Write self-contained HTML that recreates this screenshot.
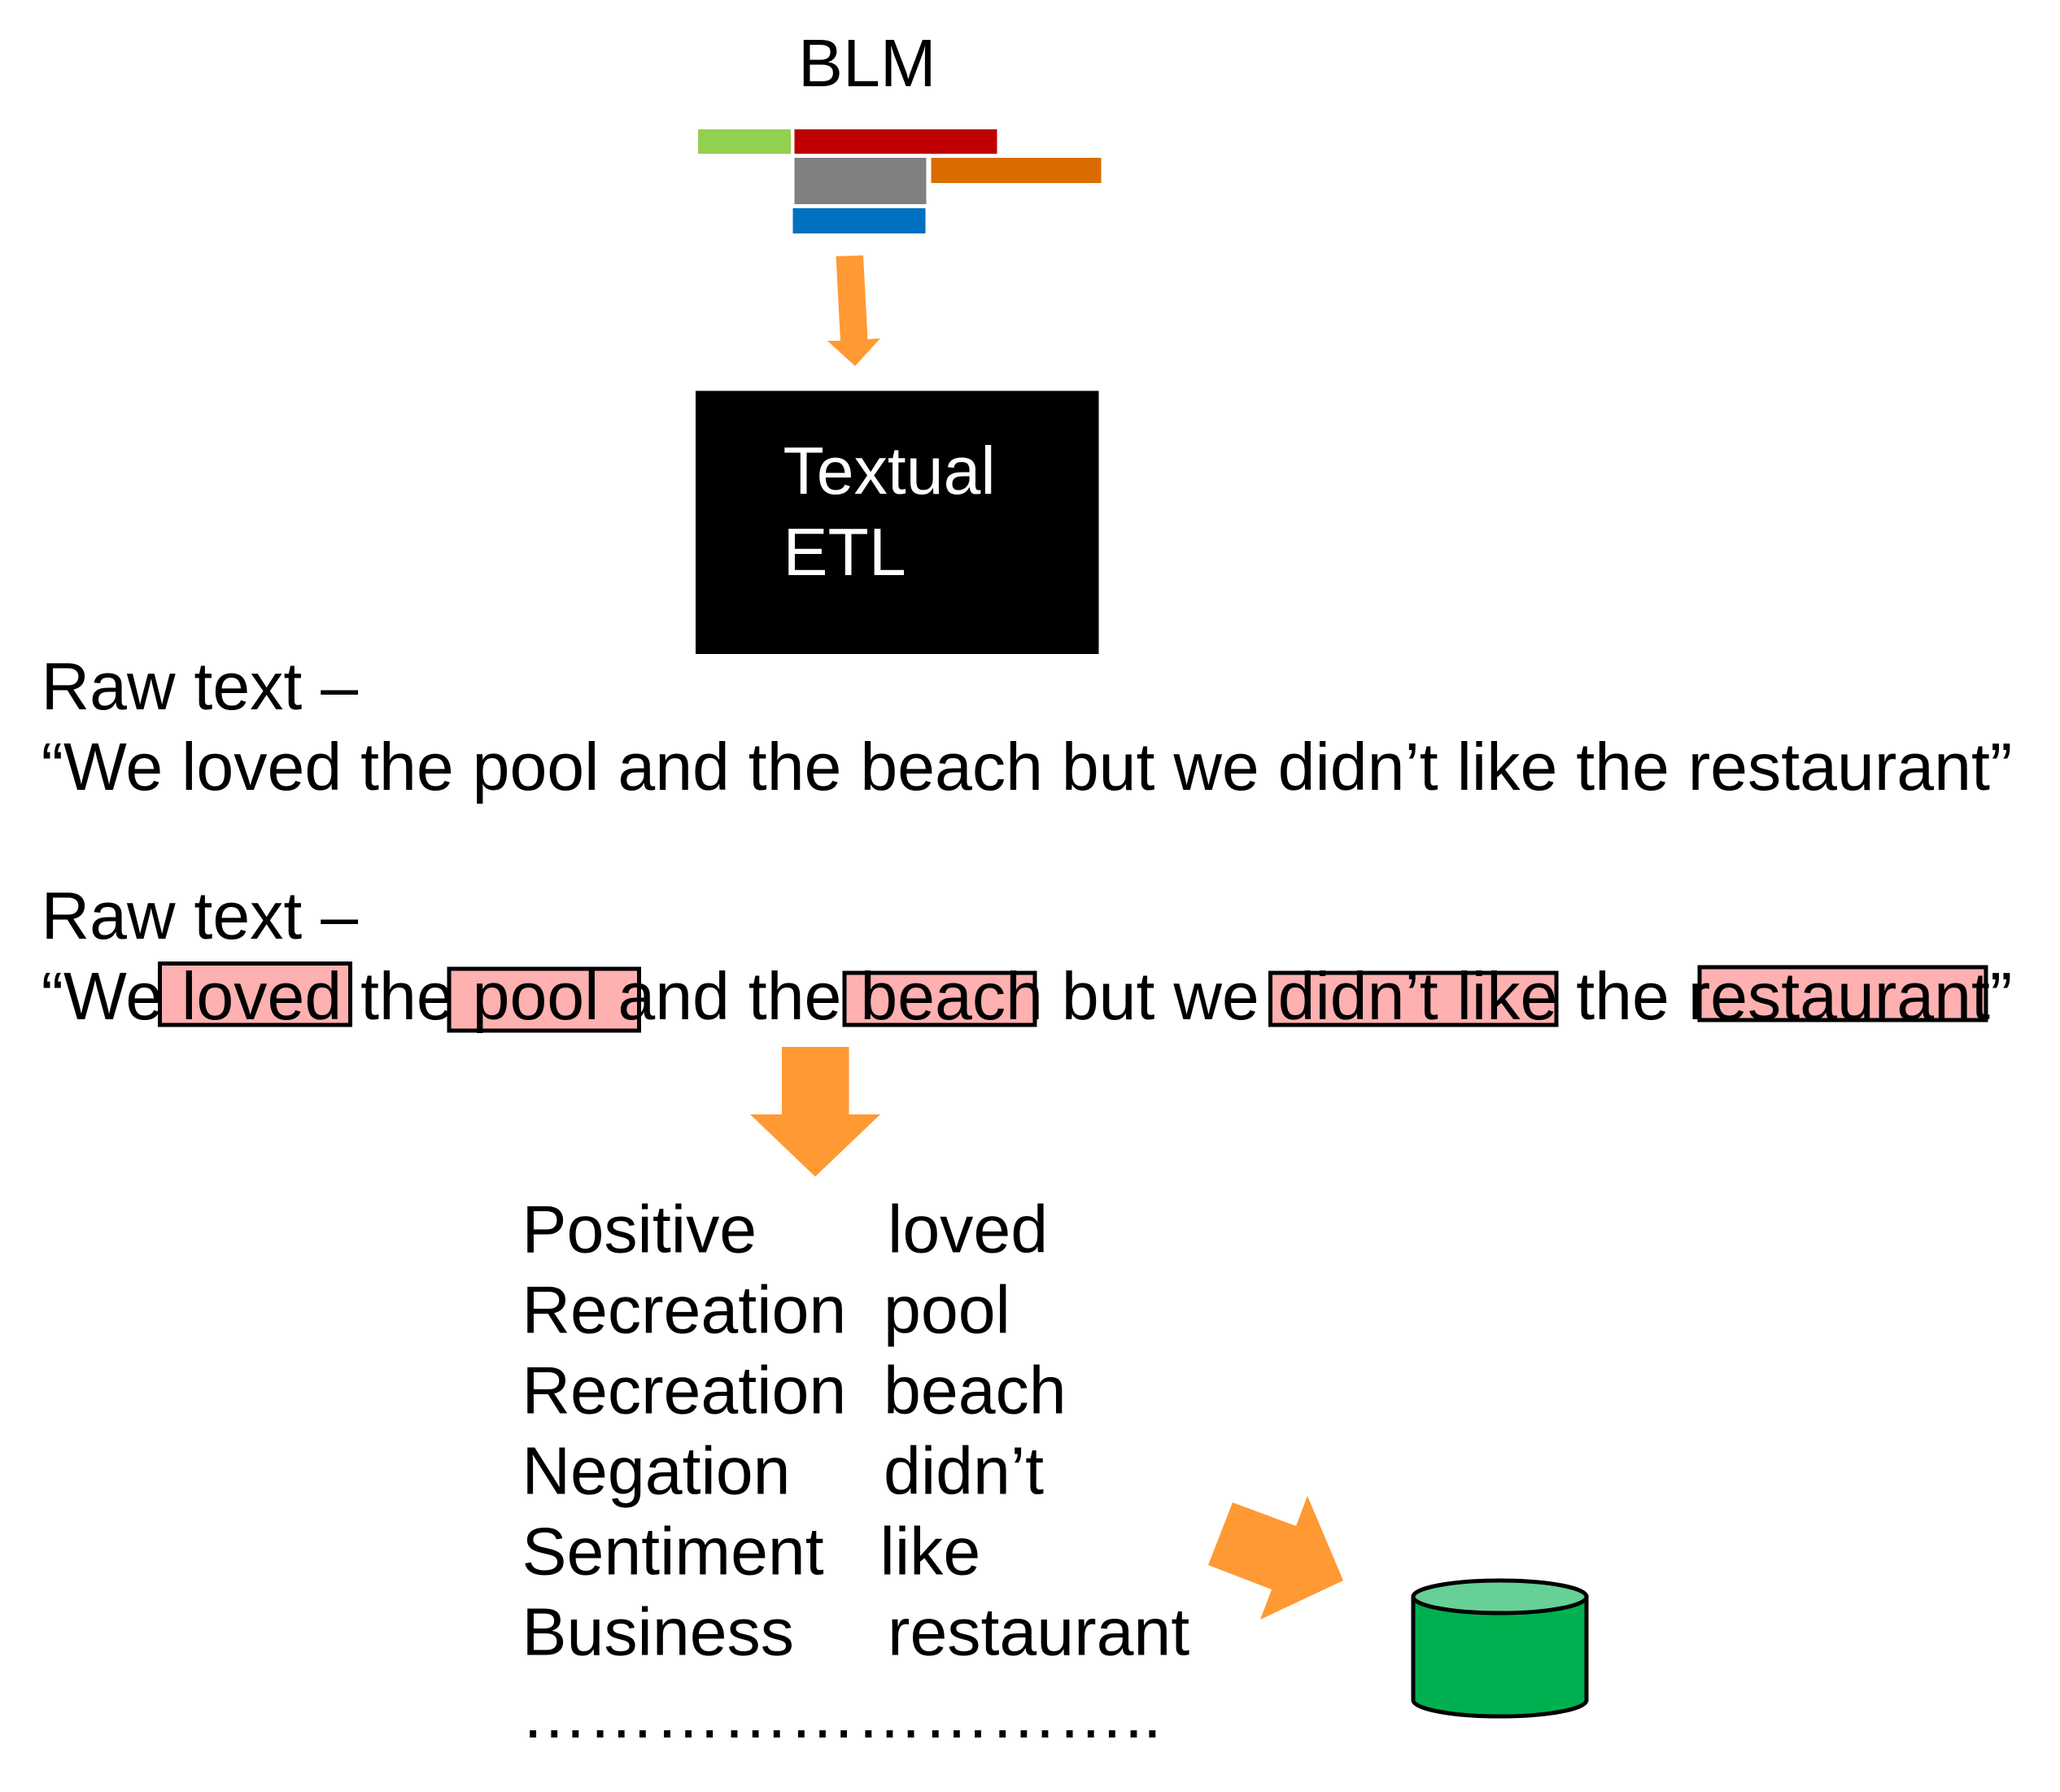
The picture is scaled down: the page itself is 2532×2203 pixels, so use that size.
<!DOCTYPE html>
<html><head><meta charset="utf-8"><style>
html,body{margin:0;padding:0;background:#fff}
svg{display:block}
text{font-family:"Liberation Sans",Arial,sans-serif;font-size:82.45px;fill:#000;white-space:pre}
</style></head><body>
<svg width="2532" height="2203" viewBox="0 0 2532 2203" xmlns="http://www.w3.org/2000/svg">
<rect width="2532" height="2203" fill="#fff"/>
<text x="981" y="106">BLM</text>
<rect x="858" y="159" width="114" height="30" fill="#92D050"/>
<rect x="976.5" y="159" width="249" height="30" fill="#C00000"/>
<rect x="976.5" y="194" width="162" height="57" fill="#808080"/>
<rect x="1144.5" y="194" width="209" height="31" fill="#D96C00"/>
<rect x="974.5" y="256" width="163" height="31" fill="#0070C0"/>
<polygon points="1027.5,315 1061,314 1066.5,417 1082,416 1051,450 1017,419 1033,419" fill="#FF9933"/>
<rect x="855" y="480.5" width="495.5" height="323.5" fill="#000"/>
<text x="962.5" y="607" style="fill:#fff">Textual</text>
<text x="962.5" y="707" style="fill:#fff">ETL</text>
<text x="50.6" y="872">Raw text –</text>
<text x="50.6" y="971">“We loved the pool and the beach but we didn’t like the restaurant”</text>
<text x="50.6" y="1154">Raw text –</text>
<g fill="#FFB0B0" stroke="#000" stroke-width="5">
<rect x="196.5" y="1184.5" width="234" height="75.5"/>
<rect x="552" y="1191" width="233.5" height="76"/>
<rect x="1038" y="1196" width="234" height="64"/>
<rect x="1561.5" y="1196" width="351.5" height="64"/>
<rect x="2089" y="1189" width="352" height="65"/>
</g>
<text x="50.6" y="1253">“We loved the pool and the beach but we didn’t like the restaurant”</text>
<polygon points="961,1287 1043.5,1287 1043.5,1370 1082,1370 1002,1446.5 922,1370 961,1370" fill="#FF9933"/>
<text x="641.5" y="1539.5">Positive</text><text x="1091" y="1539.5">loved</text>
<text x="641.5" y="1638.5">Recreation</text><text x="1086" y="1638.5">pool</text>
<text x="641.5" y="1737.5">Recreation</text><text x="1086" y="1737.5">beach</text>
<text x="641.5" y="1836.5">Negation</text><text x="1086" y="1836.5">didn’t</text>
<text x="641.5" y="1935.5">Sentiment</text><text x="1081.5" y="1935.5">like</text>
<text x="641.5" y="2034.5">Business</text><text x="1091" y="2034.5">restaurant</text>
<text x="640" y="2136">………………………..</text>
<polygon points="1515,1847 1593,1876 1607,1839 1651,1943 1549,1991 1563,1954 1485,1924" fill="#FF9933"/>
<path d="M1737 1963 V2090 C1737 2101 1784.5 2110 1843.5 2110 C1902.5 2110 1950 2101 1950 2090 V1963 Z" fill="#00B050" stroke="#000" stroke-width="5"/>
<ellipse cx="1843.5" cy="1963" rx="106.5" ry="20" fill="#66D096" stroke="#000" stroke-width="5"/>
</svg>
</body></html>
